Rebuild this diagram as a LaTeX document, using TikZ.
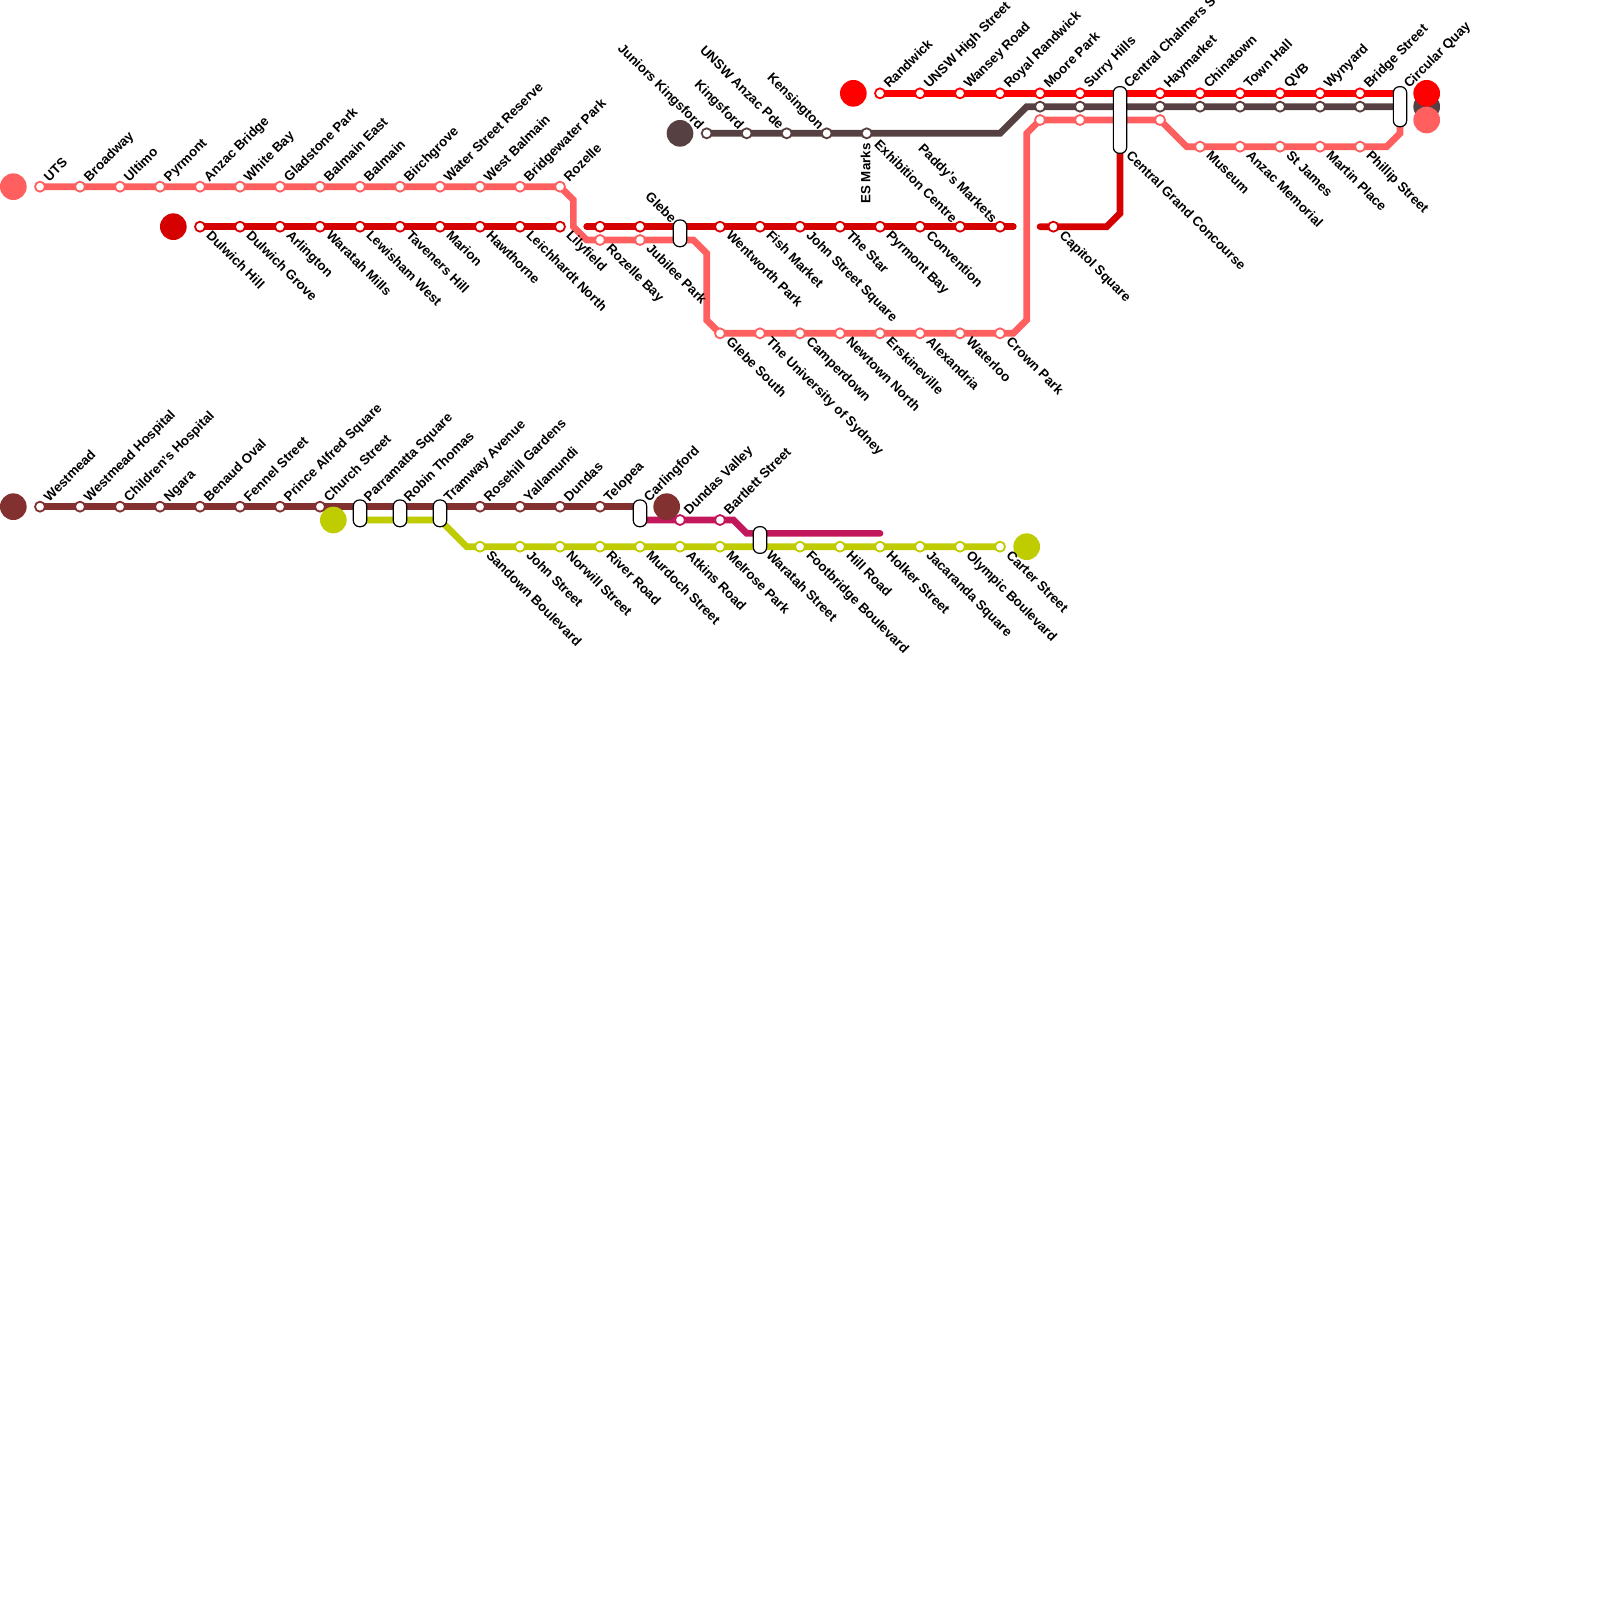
\documentclass[tikz,border=0pt]{standalone}
\usepackage{fontspec}
\usetikzlibrary{backgrounds}
\newfontfamily\labfont{Liberation Sans}[Ligatures=TeX]
\definecolor{lred}{HTML}{FF5F5F}
\definecolor{dred}{HTML}{D50000}
\definecolor{bred}{HTML}{FF0000}
\definecolor{brn}{HTML}{574041}
\definecolor{mar}{HTML}{823030}
\definecolor{yel}{HTML}{BFCC00}
\definecolor{mag}{HTML}{C2185B}
\tikzset{
  stn/.style={circle,draw=#1,fill=white,line width=1.8pt,minimum size=10pt,inner sep=0pt},
  term/.style={circle,fill=#1,minimum size=26.67pt,inner sep=0pt},
  pill/.style={rectangle,rounded corners=6pt,draw=black,fill=white,line width=1.2pt,minimum width=13.33pt,inner sep=0pt,minimum height=#1},
  rail/.style={draw=#1,line width=6.67pt,line cap=round,line join=miter},
  lab/.style={font=\labfont\bfseries\fontsize{13.33}{15}\selectfont,text=black,inner sep=0pt},
}
\newcommand{\stns}[3]{\foreach \n/\xx in {#3}{\node[stn=#1] (#1\n) at (\xx,#2) {};}}
\newcommand{\upl}[2]{\node[lab,rotate=45,anchor=base west] (l#1) at ([shift={(9.2,-4.3)}]#1.center) {#2};}
\newcommand{\dnl}[2]{\node[lab,rotate=-45,anchor=base west] (l#1) at ([shift={(5.5,9.4)}]#1.center) {#2};}
\newcommand{\lfl}[2]{\node[lab,rotate=-45,anchor=base east] (l#1) at ([shift={(-8.2,-3)}]#1.center) {#2};}
\begin{document}
\begin{tikzpicture}[x=1pt,y=-1pt]
\useasboundingbox (0,0) rectangle (1600,1600);
% terminals (stacking: brown below red below light red)
\node[term=brn] (tbrnE) at (1426.67,106.67) {};
\node[term=bred] (tbredE) at (1426.67,93.33) {};
\node[term=lred] (tlredE) at (1426.67,120) {};
\node[term=lred] (tlredW) at (13.33,186.67) {};
\node[term=dred] (tdredW) at (173.33,226.67) {};
\node[term=brn] (tbrnW) at (680,133.33) {};
\node[term=bred] (tbredW) at (853.33,93.33) {};
\node[term=mar] (tmarW) at (13.33,506.67) {};
\node[term=mar] (tmarE) at (666.67,506.67) {};
\node[term=yel] (tyelW) at (333.33,520) {};
\node[term=yel] (tyelE) at (1026.67,546.67) {};
% pills
\node[pill=66.67pt] (pCentral) at (1120,120) {};
\node[pill=40pt] (pQuay) at (1400,106.67) {};
\node[pill=26.67pt] (pGlebe) at (680,233.33) {};
\node[pill=26.67pt] (pParra) at (360,513.33) {};
\node[pill=26.67pt] (pRobin) at (400,513.33) {};
\node[pill=26.67pt] (pTram) at (440,513.33) {};
\node[pill=26.67pt] (pCarl) at (640,513.33) {};
\node[pill=26.67pt] (pWara) at (760,540) {};
% bend and end coordinates
\coordinate (lr1) at (573.33,200);
\coordinate (lr2) at (573.33,226.67);
\coordinate (lr3) at (586.67,240);
\coordinate (lr4) at (693.33,240);
\coordinate (lr5) at (706.67,253.33);
\coordinate (lr6) at (706.67,320);
\coordinate (lr7) at (1013.33,333.33);
\coordinate (lr8) at (1026.67,320);
\coordinate (lr9) at (1026.67,133.33);
\coordinate (lr10) at (1186.67,146.67);
\coordinate (lr11) at (1386.67,146.67);
\coordinate (lr12) at (1400,133.33);
\coordinate (lr13) at (1400,120);
\coordinate (dr1) at (586.67,226.67);
\coordinate (dr2) at (1013.33,226.67);
\coordinate (dr3) at (1040,226.67);
\coordinate (dr4) at (1106.67,226.67);
\coordinate (dr5) at (1120,213.33);
\coordinate (dr6) at (1120,146.67);
\coordinate (bn1) at (1000,133.33);
\coordinate (bn2) at (1026.67,106.67);
\coordinate (bn3) at (1400,106.67);
\coordinate (br1) at (1400,93.33);
\coordinate (y1) at (360,520);
\coordinate (y2) at (440,520);
\coordinate (y3) at (466.67,546.67);
\coordinate (m1) at (640,520);
\coordinate (m2) at (733.33,520);
\coordinate (m3) at (746.67,533.33);
\coordinate (m4) at (880,533.33);
\coordinate (mr1) at (640,506.67);
% stations
\stns{lred}{186.67}{a/40,b/80,c/120,d/160,e/200,f/240,g/280,h/320,i/360,j/400,k/440,m/480,n/520,o/560}
\stns{lred}{240}{p/600,q/640}
\stns{lred}{333.33}{r/720,s/760,t/800,u/840,v/880,w/920,x/960,y/1000}
\stns{lred}{120}{z/1040,aa/1080,ab/1160}
\stns{lred}{146.67}{ac/1200,ad/1240,ae/1280,af/1320,ag/1360}
\stns{dred}{226.67}{a/200,b/240,c/280,d/320,e/360,f/400,g/440,h/480,i/520,j/560,k/600,m/640,n/720,o/760,p/800,q/840,r/880,s/920,t/960,u/1000,v/1053.33}
\stns{brn}{133.33}{a/706.67,b/746.67,c/786.67,d/826.67,e/866.67}
\stns{brn}{106.67}{f/1040,g/1080,h/1160,i/1200,j/1240,k/1280,m/1320,n/1360}
\stns{bred}{93.33}{a/880,b/920,c/960,d/1000,e/1040,f/1080,g/1160,h/1200,i/1240,j/1280,k/1320,m/1360}
\stns{mar}{506.67}{a/40,b/80,c/120,d/160,e/200,f/240,g/280,h/320,i/480,j/520,k/560,m/600}
\stns{yel}{546.67}{a/480,b/520,c/560,d/600,e/640,f/680,g/720,h/800,i/840,j/880,k/920,m/960,n/1000}
\stns{mag}{520}{a/680,b/720}
% rails
\begin{pgfonlayer}{background}
\draw[rail=dred] (dreda.center) -- (dredj.center);
\draw[rail=dred] (dr1) -- (dr2);
\draw[rail=dred] (dr3) -- (dr4) -- (dr5) -- (dr6);
\draw[rail=brn] (brna.center) -- (bn1) -- (bn2) -- (bn3);
\draw[rail=bred] (breda.center) -- (br1);
\draw[rail=lred] (lreda.center) -- (lredo.center) -- (lr1) -- (lr2) -- (lr3) -- (lr4) -- (lr5) -- (lr6) -- (lredr.center) -- (lredy.center) -- (lr7) -- (lr8) -- (lr9) -- (lredz.center) -- (lredab.center) -- (lr10) -- (lr11) -- (lr12) -- (lr13);
\draw[rail=mar] (mara.center) -- (mr1);
\draw[rail=yel] (y1) -- (y2) -- (y3) -- (yeln.center);
\draw[rail=mag] (m1) -- (m2) -- (m3) -- (m4);
\end{pgfonlayer}
% labels: top row light red
\upl{lreda}{UTS}\upl{lredb}{Broadway}\upl{lredc}{Ultimo}\upl{lredd}{Pyrmont}\upl{lrede}{Anzac Bridge}\upl{lredf}{White Bay}\upl{lredg}{Gladstone Park}\upl{lredh}{Balmain East}\upl{lredi}{Balmain}\upl{lredj}{Birchgrove}\upl{lredk}{Water Street Reserve}\upl{lredm}{West Balmain}\upl{lredn}{Bridgewater Park}\upl{lredo}{Rozelle}
\dnl{lredp}{Rozelle Bay}\dnl{lredq}{Jubilee Park}
\dnl{lredr}{Glebe South}\dnl{lreds}{The University of Sydney}\dnl{lredt}{Camperdown}\dnl{lredu}{Newtown North}\dnl{lredv}{Erskineville}\dnl{lredw}{Alexandria}\dnl{lredx}{Waterloo}\dnl{lredy}{Crown Park}
\dnl{lredac}{Museum}\dnl{lredad}{Anzac Memorial}\dnl{lredae}{St James}\dnl{lredaf}{Martin Place}\dnl{lredag}{Phillip Street}
% dark red
\dnl{dreda}{Dulwich Hill}\dnl{dredb}{Dulwich Grove}\dnl{dredc}{Arlington}\dnl{dredd}{Waratah Mills}\dnl{drede}{Lewisham West}\dnl{dredf}{Taveners Hill}\dnl{dredg}{Marion}\dnl{dredh}{Hawthorne}\dnl{dredi}{Leichhardt North}\dnl{dredj}{Lilyfield}
\dnl{dredn}{Wentworth Park}\dnl{dredo}{Fish Market}\dnl{dredp}{John Street Square}\dnl{dredq}{The Star}\dnl{dredr}{Pyrmont Bay}\dnl{dreds}{Convention}\dnl{dredv}{Capitol Square}
\lfl{dredt}{Exhibition Centre}\lfl{dredu}{Paddy's Markets}
\node[lab,rotate=-45,anchor=base east] (lGlebe) at (671,224) {Glebe};
\dnl{dr6}{Central Grand Concourse}
% brown
\lfl{brna}{Juniors Kingsford}\lfl{brnb}{Kingsford}\lfl{brnc}{UNSW Anzac Pde}\lfl{brnd}{Kensington}
\node[lab,rotate=90,anchor=base east] (lbrne) at ([shift={(3.7,10)}]brne.center) {ES Marks};
% bright red
\upl{breda}{Randwick}\upl{bredb}{UNSW High Street}\upl{bredc}{Wansey Road}\upl{bredd}{Royal Randwick}\upl{brede}{Moore Park}\upl{bredf}{Surry Hills}\upl{bredg}{Haymarket}\upl{bredh}{Chinatown}\upl{bredi}{Town Hall}\upl{bredj}{QVB}\upl{bredk}{Wynyard}\upl{bredm}{Bridge Street}
\node[lab,rotate=45,anchor=base west] (lcc) at (1129.2,89.03) {Central Chalmers Street};
\node[lab,rotate=45,anchor=base west] (lcq) at (1409.2,89.03) {Circular Quay};
% maroon
\upl{mara}{Westmead}\upl{marb}{Westmead Hospital}\upl{marc}{Children's Hospital}\upl{mard}{Ngara}\upl{mare}{Benaud Oval}\upl{marf}{Fennel Street}\upl{marg}{Prince Alfred Square}\upl{marh}{Church Street}\upl{mari}{Rosehill Gardens}\upl{marj}{Yallamundi}\upl{mark}{Dundas}\upl{marm}{Telopea}
\node[lab,rotate=45,anchor=base west] (lps) at (369.2,502.37) {Parramatta Square};
\node[lab,rotate=45,anchor=base west] (lrt) at (409.2,502.37) {Robin Thomas};
\node[lab,rotate=45,anchor=base west] (lta) at (449.2,502.37) {Tramway Avenue};
\node[lab,rotate=45,anchor=base west] (lcf) at (649.2,502.37) {Carlingford};
\upl{maga}{Dundas Valley}\upl{magb}{Bartlett Street}
% yellow
\dnl{yela}{Sandown Boulevard}\dnl{yelb}{John Street}\dnl{yelc}{Norwill Street}\dnl{yeld}{River Road}\dnl{yele}{Murdoch Street}\dnl{yelf}{Atkins Road}\dnl{yelg}{Melrose Park}\dnl{yelh}{Footbridge Boulevard}\dnl{yeli}{Hill Road}\dnl{yelj}{Holker Street}\dnl{yelk}{Jacaranda Square}\dnl{yelm}{Olympic Boulevard}\dnl{yeln}{Carter Street}
\node[lab,rotate=-45,anchor=base west] (lws) at (765.5,556.07) {Waratah Street};
\end{tikzpicture}
\end{document}
